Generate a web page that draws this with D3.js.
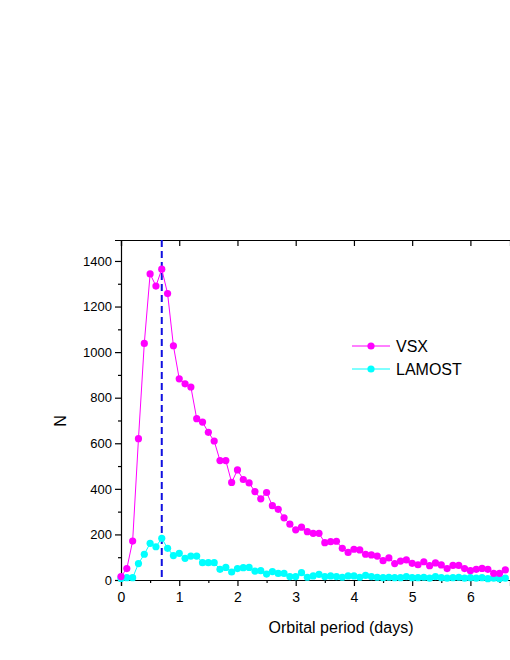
<!DOCTYPE html>
<html><head><meta charset="utf-8">
<script src="https://cdn.jsdelivr.net/npm/d3@7"></script>
<style>body{margin:0;background:#fff}text{font-family:Arial,"Liberation Sans",sans-serif}</style>
</head><body>
<svg id="c" width="510" height="660"></svg>
<script>
// period bins (days), step 0.1
var periods = d3.range(0, 67).map(function(i){ return +(i*0.1).toFixed(1); });
var vsx = [15,50,171,620,1038,1343,1290,1364,1257,1028,883,861,847,708,693,648,610,524,524,428,
  483,441,426,388,356,384,326,310,273,245,220,232,212,205,205,164,168,170,139,121,
  135,132,113,110,105,85,97,72,83,88,73,67,80,63,75,66,50,64,64,50,
  41,47,51,47,29,29,44];
var lamost = [7,10,10,72,113,161,146,183,139,107,117,95,105,105,76,76,76,47,55,35,
  50,54,55,39,41,26,37,29,29,15,15,32,12,18,25,15,18,15,12,18,
  18,12,20,15,12,10,12,10,10,15,10,10,12,8,15,10,8,10,12,8,
  10,8,10,6,8,6,8];
var yTicks = [0,200,400,600,800,1000,1200,1400];
var xTicks = [0,1,2,3,4,5,6];
var peakPeriod = 0.7;

var svg = d3.select('#c');
var L=121, R=510, T=240, B=580;
var x = d3.scaleLinear().domain([0,6.68]).range([L,R]);
var y = d3.scaleLinear().domain([0,1492]).range([B,T]);

var g = svg.append('g');
g.append('g').attr('transform','translate(0,'+B+')')
  .call(d3.axisBottom(x).tickValues(xTicks).tickSize(6).tickFormat(d3.format('d')))
  .call(function(a){a.selectAll('text').attr('font-size',14).attr('dy','0.9em');});
g.append('g').attr('transform','translate(0,'+B+')')
  .call(d3.axisBottom(x).tickValues(d3.range(0.5,6.6,1)).tickSize(3).tickFormat(''))
  .call(function(a){a.select('.domain').remove();});
g.append('g').attr('transform','translate('+L+',0)')
  .call(d3.axisLeft(y).tickValues(yTicks).tickSize(6).tickFormat(d3.format('d')))
  .call(function(a){a.selectAll('text').attr('font-size',13);});
g.append('g').attr('transform','translate('+L+',0)')
  .call(d3.axisLeft(y).tickValues(d3.range(100,1500,200)).tickSize(3).tickFormat(''))
  .call(function(a){a.select('.domain').remove();});
g.append('g').attr('transform','translate(0,'+T+')')
  .call(d3.axisBottom(x).tickValues(xTicks).tickSize(6).tickFormat(''));
g.selectAll('.domain,.tick line').attr('stroke','#000').attr('stroke-width',1.2);
g.selectAll('.tick text').attr('fill','#000');

svg.append('line').attr('x1',x(peakPeriod)).attr('x2',x(peakPeriod)).attr('y1',T).attr('y2',B)
  .attr('stroke','#1010e0').attr('stroke-width',2).attr('stroke-dasharray','7,4');

function series(data,color){
  var line = d3.line().x(function(d,i){return x(periods[i]);}).y(function(d){return y(d);});
  svg.append('path').datum(data).attr('d',line).attr('fill','none').attr('stroke',color).attr('stroke-width',1);
  svg.append('g').selectAll('circle').data(data).enter().append('circle')
    .attr('cx',function(d,i){return x(periods[i]);}).attr('cy',function(d){return y(d);})
    .attr('r',3.6).attr('fill',color);
}
series(lamost,'#00ffff');
series(vsx,'#ff00ff');

var leg = [['VSX','#ff00ff',346],['LAMOST','#00ffff',369]];
leg.forEach(function(l){
  svg.append('line').attr('x1',352).attr('x2',390).attr('y1',l[2]).attr('y2',l[2]).attr('stroke',l[1]);
  svg.append('circle').attr('cx',371).attr('cy',l[2]).attr('r',3.6).attr('fill',l[1]);
  svg.append('text').attr('x',396).attr('y',l[2]+6).attr('font-size',16).text(l[0]);
});

svg.append('text').attr('x',341).attr('y',633).attr('text-anchor','middle').attr('font-size',16).text('Orbital period (days)');
svg.append('text').attr('transform','translate(66,421) rotate(-90)').attr('text-anchor','middle').attr('font-size',16).text('N');
</script>
</body></html>
